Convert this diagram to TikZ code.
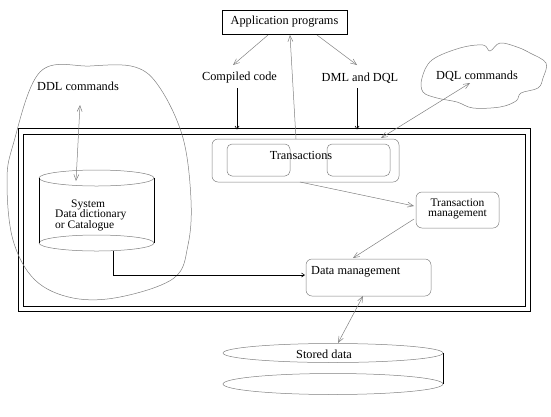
\documentclass[tikz,border=0pt]{standalone}
\usepackage{fontspec}
\setmainfont{Liberation Serif}
\usetikzlibrary{arrows.meta,calc}
\definecolor{lg}{gray}{0.5}
\tikzset{
  txt/.style={inner sep=0pt, font=\fontsize{12.3}{12}\selectfont},
  stxt/.style={inner sep=0pt, font=\fontsize{11.5}{11}\selectfont},
  gline/.style={draw=lg, line width=0.5pt},
  garrow/.style={gline, -{Straight Barb[length=6pt,width=5pt,line width=0.5pt]}},
  gdarrow/.style={gline, {Straight Barb[length=6pt,width=5pt,line width=0.5pt]}-{Straight Barb[length=6pt,width=5pt,line width=0.5pt]}},
  barrow/.style={draw=black, line width=0.8pt, -{Straight Barb[length=3pt,width=4pt,line width=0.6pt]}},
  rbox/.style={draw=lg, line width=0.5pt, rounded corners=6pt, inner sep=0pt},
  frame/.style={draw=black, line width=0.9pt},
}
\begin{document}
\begin{tikzpicture}[x=1pt,y=-1pt]
\useasboundingbox (0,0) rectangle (551,416);

% outer double frame
\draw[frame] (18,128) rectangle (530,311);
\draw[frame] (23,134) rectangle (525,306);

% DDL blob
\draw[lg, line width=0.5pt] plot[smooth cycle, tension=0.6] coordinates {
 (40,72) (90,66) (135,67) (160,88) (183,138) (191,200) (188,245) (174,278)
 (120,297) (73,298) (35,280) (13,240) (7,183) (13,145)};

% DQL cloud
\draw[lg, line width=0.5pt] plot[smooth cycle, tension=0.6] coordinates {
 (432,60) (460,48) (483,45) (490,51) (500,43) (517,47) (530,53) (546,63)
 (543,78) (538,88) (521,93) (516,101) (500,107) (473,108) (457,102) (437,98)
 (423,92) (422,78)};

% nodes
\node[draw, line width=0.6pt, minimum width=125pt, minimum height=24pt, inner sep=0pt] (app) at (284.5,22) {};
\node[txt] (apptxt) at (284.5,22) {Application programs};
\node[txt] (cc) at (239.5,78) {Compiled code};
\node[txt] (dml) at (360,78) {DML and DQL};
\node[txt] (dql) at (477,76) {DQL commands};
\node[txt] (ddl) at (78,86) {DDL commands};

\node[rbox, minimum width=187pt, minimum height=43pt] (trans) at (305.5,160.5) {};
\node[rbox, rounded corners=5pt, minimum width=63pt, minimum height=32pt] (t1) at (258.5,160) {};
\node[rbox, rounded corners=5pt, minimum width=63pt, minimum height=32pt] (t2) at (358.5,160) {};
\node[txt] (transtxt) at (301,155) {Transactions};

\node[rbox, minimum width=83pt, minimum height=36pt] (tm) at (457.5,210) {};
\node[stxt, anchor=base] (tm1) at (457.5,206) {Transaction};
\node[stxt, anchor=base] (tm2) at (457.5,216.5) {management};

\node[rbox, minimum width=125pt, minimum height=37pt] (dm) at (368.5,277.5) {};
\node[txt, anchor=base west] (dmtxt) at (311,274) {Data management};

% system catalogue cylinder
\node[inner sep=0pt, minimum width=115pt, minimum height=81pt] (sys) at (96.5,210.5) {};
\draw[lg, line width=0.5pt] (96.5,178) ellipse [x radius=57.5pt, y radius=8pt];
\draw[lg, line width=0.5pt] (96.5,243) ellipse [x radius=57.5pt, y radius=8pt];
\draw[black, line width=0.8pt] (39,178) -- (39,243) (154,178) -- (154,243);
\node[stxt, anchor=base west] (s1) at (71,207) {System};
\node[stxt, anchor=base west] (s2) at (55,217.5) {Data dictionary};
\node[stxt, anchor=base west] (s3) at (55,228) {or Catalogue};

% stored data cylinder
\node[inner sep=0pt, minimum width=220pt, minimum height=51pt] (sd) at (333,368.5) {};
\draw[lg, line width=0.5pt] (333,353) ellipse [x radius=110pt, y radius=9.5pt];
\draw[lg, line width=0.5pt] (333,384) ellipse [x radius=110pt, y radius=10.5pt];
\draw[black, line width=0.8pt] (443,353) -- (443,384);
\node[txt, anchor=base west] (sdtxt) at (296,358) {Stored data};

% connector end points
\coordinate (appL) at (268,35);
\coordinate (appR) at (317,35);
\coordinate (appB) at (290,35);
\coordinate (ccT) at (233,65);
\coordinate (dmlT) at (357,65);
\coordinate (ccB) at (237,88);
\coordinate (ccF) at (237,129.5);
\coordinate (dmlB) at (357,88);
\coordinate (dmlF) at (357,129.5);
\coordinate (transT) at (296,139);
\coordinate (dqlA) at (470,83);
\coordinate (transR) at (381,138);
\coordinate (transB) at (300,182);
\coordinate (tmL) at (414,206);
\coordinate (tmBL) at (414,219);
\coordinate (dmT) at (353,258);
\coordinate (ddlB) at (80,105);
\coordinate (sysT) at (76,181);
\coordinate (sysB) at (113,251);
\coordinate (bend) at (113,275);
\coordinate (dmL) at (305,275);
\coordinate (dmB) at (363,296);
\coordinate (sdT) at (338,343);

% connectors
\draw[garrow] (appL) -- (ccT);
\draw[garrow] (appR) -- (dmlT);
\draw[barrow] (ccB) -- (ccF);
\draw[barrow] (dmlB) -- (dmlF);
\draw[garrow] (transT) -- (appB);
\draw[gdarrow] (dqlA) -- (transR);
\draw[garrow] (transB) -- (tmL);
\draw[garrow] (tmBL) -- (dmT);
\draw[gdarrow] (ddlB) -- (sysT);
\draw[barrow] (sysB) -- (bend) -- (dmL);
\draw[gdarrow] (dmB) -- (sdT);
\end{tikzpicture}
\end{document}
